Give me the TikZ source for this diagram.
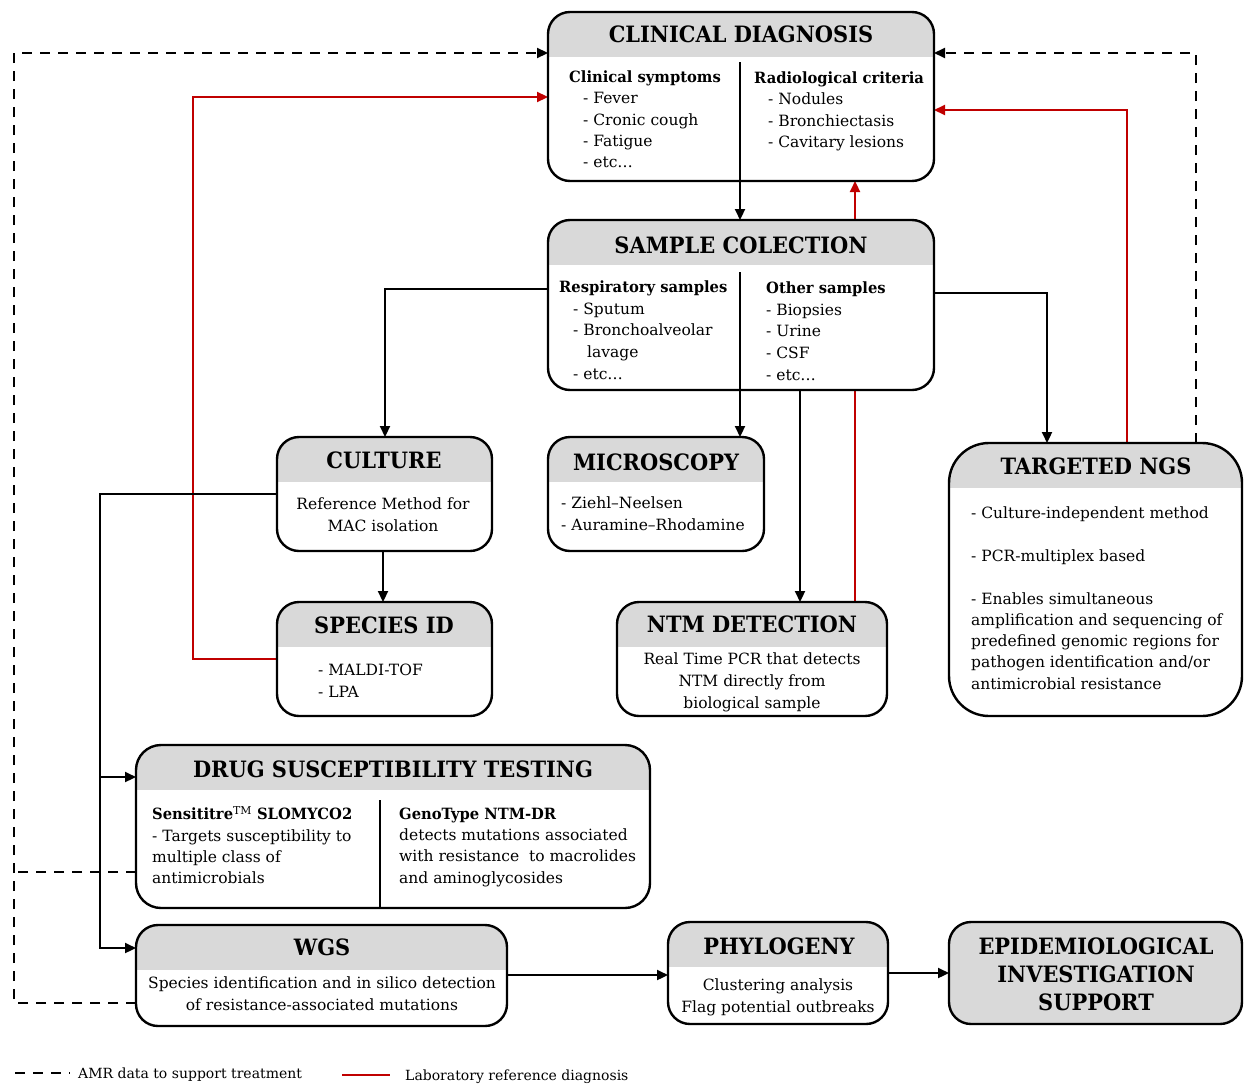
\documentclass[tikz,border=0pt]{standalone}
\usepackage{fontspec}
\setmainfont{DejaVu Serif}[BoldFeatures={FakeStretch=0.95}]
\newfontfamily\ttlfont{DejaVu Serif Bold}[FakeStretch=0.93]
\usetikzlibrary{arrows.meta,backgrounds}
\definecolor{hdr}{RGB}{217,217,217}
\definecolor{redl}{RGB}{192,0,0}
\begin{document}
\begin{tikzpicture}[x=1pt,y=-1pt,
  box/.style={draw, line width=2.4pt, rounded corners=22pt, fill=white, inner sep=0pt, outer sep=0pt,
    path picture={\fill[hdr, sharp corners] ([yshift=5pt]path picture bounding box.north west) rectangle ([yshift=-45pt]path picture bounding box.north east);}},
  gbox/.style={draw, line width=2.4pt, rounded corners=22pt, fill=hdr, inner sep=0pt, outer sep=0pt},
  ttl/.style={inner sep=0pt, font=\ttlfont\fontsize{22.5}{28}\selectfont, align=center},
  txt/.style={inner sep=0pt, anchor=north west, align=left, font=\fontsize{15.5}{21.3}\selectfont},
  ctxt/.style={inner sep=0pt, anchor=north, align=center, font=\fontsize{15.5}{21.8}\selectfont},
  conn/.style={line width=2.2pt, -{Triangle[length=11pt,width=10pt]}},
  redc/.style={conn, draw=redl, color=redl},
  dashc/.style={conn, dash pattern=on 10pt off 8pt},
  divl/.style={line width=2.2pt},
  leg/.style={inner sep=0pt, anchor=base west, font=\fontsize{14}{16}\selectfont}
]
\useasboundingbox (0,0) rectangle (1244,1084);

% boxes
\node[box, minimum width=386pt, minimum height=169pt] (clin) at (741,96.5) {};
\node[box, minimum width=386pt, minimum height=170pt] (samp) at (741,305) {};
\node[box, minimum width=215pt, minimum height=114pt] (cult) at (384.5,494) {};
\node[box, minimum width=216pt, minimum height=114pt] (micro) at (656,494) {};
\node[box, minimum width=215pt, minimum height=114pt] (spec) at (384.5,659) {};
\node[box, minimum width=270pt, minimum height=114pt] (ntm) at (752,659) {};
\node[box, rounded corners=40pt, minimum width=293pt, minimum height=273pt] (ngs) at (1095.5,579.5) {};
\node[box, rounded corners=25pt, minimum width=514pt, minimum height=163pt] (dst) at (393,826.5) {};
\node[box, minimum width=371pt, minimum height=101pt] (wgs) at (321.5,975.5) {};
\node[box, minimum width=220pt, minimum height=102pt] (phylo) at (778,973) {};
\node[gbox, minimum width=293pt, minimum height=102pt] (epi) at (1095.5,973) {};

% dividers
\draw[divl] (740,62) -- (clin.south -| 740,0);
\draw[divl] (740,272) -- (samp.south -| 740,0);
\draw[divl] (380,800) -- (dst.south -| 380,0);

% titles
\node[ttl] (tclin) at (741,34) {CLINICAL DIAGNOSIS};
\node[ttl] (tsamp) at (741,245) {SAMPLE COLECTION};
\node[ttl] (tcult) at (384,460) {CULTURE};
\node[ttl] (tmicro) at (656,462) {MICROSCOPY};
\node[ttl] (tspec) at (384,625) {SPECIES ID};
\node[ttl] (tntm) at (752,624) {NTM DETECTION};
\node[ttl] (tngs) at (1096,466) {TARGETED NGS};
\node[ttl] (tdst) at (393,769) {DRUG SUSCEPTIBILITY TESTING};
\node[ttl] (twgs) at (322,947) {WGS};
\node[ttl] (tphylo) at (779,946) {PHYLOGENY};
\node[ttl] (tepi) at (1096,974) {EPIDEMIOLOGICAL\\INVESTIGATION\\SUPPORT};

% texts
\node[txt] (xclin1) at (569,70.5) {\textbf{Clinical symptoms}\\\hspace*{14pt}- Fever\\\hspace*{14pt}- Cronic cough\\\hspace*{14pt}- Fatigue\\\hspace*{14pt}- etc\dots};
\node[txt] (xclin2) at (754,71.5) {\textbf{Radiological criteria}\\\hspace*{14pt}- Nodules\\\hspace*{14pt}- Bronchiectasis\\\hspace*{14pt}- Cavitary lesions};
\node[txt, font=\fontsize{15.5}{21.7}\selectfont] (xsamp1) at (559,280.5) {\textbf{Respiratory samples}\\\hspace*{14pt}- Sputum\\\hspace*{14pt}- Bronchoalveolar\\\hspace*{28pt}lavage\\\hspace*{14pt}- etc\dots};
\node[txt, font=\fontsize{15.5}{21.7}\selectfont] (xsamp2) at (766,281.5) {\textbf{Other samples}\\- Biopsies\\- Urine\\- CSF\\- etc\dots};
\node[ctxt] (xcult) at (383,497.5) {Reference Method for\\MAC isolation};
\node[txt, font=\fontsize{15.5}{22}\selectfont] (xmicro) at (561,496.5) {- Ziehl--Neelsen\\- Auramine--Rhodamine};
\node[txt, font=\fontsize{15.5}{22}\selectfont] (xspec) at (318,663.5) {- MALDI-TOF\\- LPA};
\node[ctxt] (xntm) at (752,652.5) {Real Time PCR that detects\\NTM directly from\\biological sample};
\node[txt] (xngs) at (971,506.5) {- Culture-independent method\\[22pt]- PCR-multiplex based\\[21pt]- Enables simultaneous\\amplification and sequencing of\\predefined genomic regions for\\pathogen identification and/or\\antimicrobial resistance};
\node[txt] (xdst1) at (152,806.5) {\textbf{Sensititre\textsuperscript{\mdseries TM} SLOMYCO2}\\- Targets susceptibility to\\multiple class of\\antimicrobials};
\node[txt] (xdst2) at (399,807.5) {\textbf{GenoType NTM-DR}\\detects mutations associated\\with resistance\ \ to macrolides\\and aminoglycosides};
\node[ctxt] (xwgs) at (322,976.5) {Species identification and in silico detection\\of resistance-associated mutations};
\node[ctxt] (xphylo) at (778,978.5) {Clustering analysis\\Flag potential outbreaks};

% connectors (behind boxes)
\begin{pgfonlayer}{background}
\draw[conn] (clin.south -| 740,0) -- (samp.north -| 740,0);
\draw[redc] (ntm.north -| 855,0) -- (clin.south -| 855,0);
\draw[conn] (samp.west |- 0,289) -| (cult.north -| 385,0);
\draw[conn] (samp.south -| 740,0) -- (micro.north -| 740,0);
\draw[conn] (samp.south -| 800,0) -- (ntm.north -| 800,0);
\draw[conn] (samp.east |- 0,293) -| (ngs.north -| 1047,0);
\draw[redc] (ngs.north -| 1127,0) |- (clin.east |- 0,110);
\draw[dashc] (ngs.north -| 1196,0) |- (clin.east |- 0,53);
\draw[dashc] (wgs.west |- 0,1003) -| (14,53) -- (clin.west |- 0,53);
\draw[line width=2.2pt, dash pattern=on 10pt off 8pt] (dst.west |- 0,872) -- (14,872);
\draw[redc] (spec.west) -| (193,97) -- (clin.west |- 0,97);
\draw[conn] (cult.south -| 383,0) -- (spec.north -| 383,0);
\draw[conn] (cult.west) -| (100,948) -- (wgs.west |- 0,948);
\draw[conn] (100,777) -- (dst.west |- 0,777);
\draw[conn] (wgs.east |- 0,975) -- (phylo.west |- 0,975);
\draw[conn] (phylo.east) -- (epi.west);
\end{pgfonlayer}

% legend
\coordinate (la1) at (15,1073);
\coordinate (la2) at (70,1073);
\coordinate (lb1) at (342,1075);
\coordinate (lb2) at (390,1075);
\draw[line width=2.2pt, dash pattern=on 10pt off 8pt] (la1) -- (la2);
\draw[line width=2.6pt, draw=redl] (lb1) -- (lb2);
\node[leg] (lga) at (78,1078) {AMR data to support treatment};
\node[leg] (lgb) at (405,1080) {Laboratory reference diagnosis};
\end{tikzpicture}
\end{document}
